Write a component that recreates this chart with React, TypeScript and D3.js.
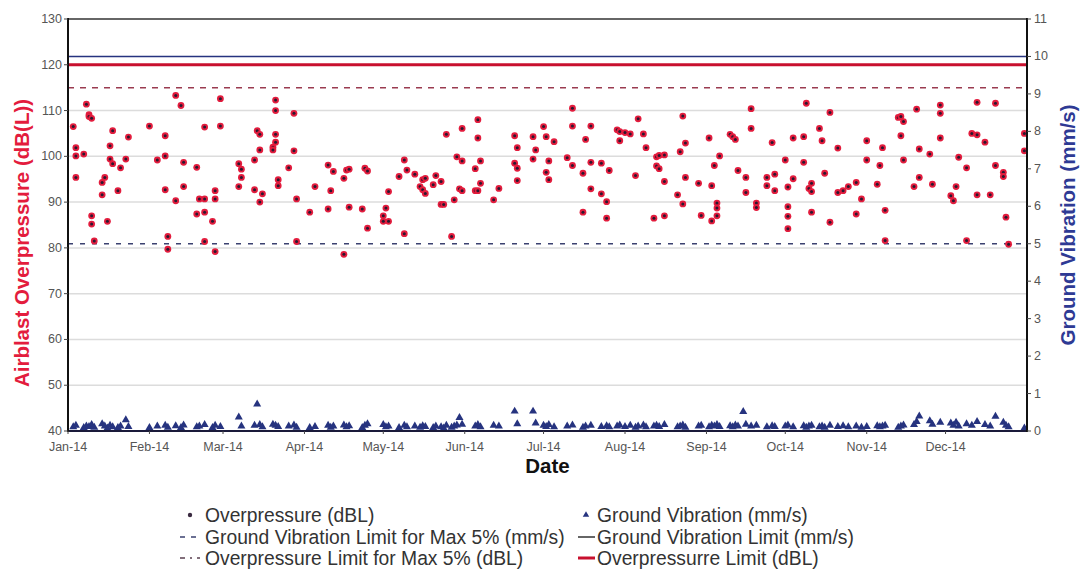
import React from 'react';
import * as d3 from 'd3';

// month ticks on the date axis
const monthTicks = [
    '2014-01-01', '2014-02-01', '2014-03-01', '2014-04-01', '2014-05-01', '2014-06-01',
    '2014-07-01', '2014-08-01', '2014-09-01', '2014-10-01', '2014-11-01', '2014-12-01'
];
const leftTicks = [40, 50, 60, 70, 80, 90, 100, 110, 120, 130];
const rightTicks = [0, 1, 2, 3, 4, 5, 6, 7, 8, 9, 10, 11];
const gridValues = [50, 60, 70, 80, 90, 100, 110, 120];

// limits
const overpressureLimit = 120;
const overpressureLimit5 = 115;
const vibrationLimit = 10;
const vibrationLimit5 = 5;

// blast results: [date, airblast overpressure dB(L)]
const overpressure: [string, number][] = [
    ['2014-01-03', 106.5], ['2014-01-04', 101.9], ['2014-01-04', 100.1], ['2014-01-04', 95.4], ['2014-01-07', 100.5],
    ['2014-01-08', 111.4], ['2014-01-09', 109.1], ['2014-01-09', 108.7], ['2014-01-10', 108.3], ['2014-01-10', 87.0],
    ['2014-01-10', 85.2], ['2014-01-11', 81.5], ['2014-01-14', 91.6], ['2014-01-14', 94.3], ['2014-01-15', 95.4],
    ['2014-01-16', 85.8], ['2014-01-17', 102.3], ['2014-01-17', 99.4], ['2014-01-18', 105.6], ['2014-01-18', 98.4],
    ['2014-01-20', 92.5], ['2014-01-21', 97.5], ['2014-01-23', 99.4], ['2014-01-24', 104.2],
    ['2014-02-01', 106.6], ['2014-02-04', 99.2], ['2014-02-07', 104.5], ['2014-02-07', 100.1], ['2014-02-07', 92.7],
    ['2014-02-08', 82.5], ['2014-02-08', 79.7], ['2014-02-11', 113.3], ['2014-02-11', 90.3], ['2014-02-13', 111.1],
    ['2014-02-14', 98.7], ['2014-02-14', 93.4], ['2014-02-19', 97.6], ['2014-02-19', 87.4], ['2014-02-20', 90.7],
    ['2014-02-22', 106.4], ['2014-02-22', 90.7], ['2014-02-22', 87.8], ['2014-02-22', 81.4], ['2014-02-25', 85.8],
    ['2014-02-26', 92.5], ['2014-02-26', 90.7], ['2014-02-26', 79.2], ['2014-02-28', 112.6], ['2014-02-28', 106.6],
    ['2014-03-07', 98.4], ['2014-03-07', 93.4], ['2014-03-08', 97.2], ['2014-03-08', 95.4], ['2014-03-13', 99.2],
    ['2014-03-13', 92.7], ['2014-03-14', 105.6], ['2014-03-15', 104.8], ['2014-03-15', 101.4], ['2014-03-15', 90.0],
    ['2014-03-16', 91.8], ['2014-03-20', 102.0], ['2014-03-20', 101.4], ['2014-03-21', 112.3], ['2014-03-21', 110.0],
    ['2014-03-21', 104.8], ['2014-03-21', 103.1], ['2014-03-22', 94.9], ['2014-03-22', 93.6], ['2014-03-26', 97.5],
    ['2014-03-28', 109.4], ['2014-03-28', 101.2], ['2014-03-29', 90.7], ['2014-03-29', 81.4],
    ['2014-04-03', 87.8], ['2014-04-05', 93.4], ['2014-04-10', 98.1], ['2014-04-10', 88.5], ['2014-04-11', 92.5],
    ['2014-04-12', 96.7], ['2014-04-16', 95.2], ['2014-04-16', 78.6], ['2014-04-17', 97.0], ['2014-04-18', 97.2],
    ['2014-04-18', 88.9], ['2014-04-23', 88.5], ['2014-04-24', 97.4], ['2014-04-25', 96.8], ['2014-04-25', 84.3],
    ['2014-05-01', 87.0], ['2014-05-01', 85.8], ['2014-05-02', 88.7], ['2014-05-03', 92.3], ['2014-05-03', 85.8],
    ['2014-05-07', 95.6], ['2014-05-09', 99.2], ['2014-05-09', 83.1], ['2014-05-10', 97.0], ['2014-05-13', 96.1],
    ['2014-05-15', 93.4], ['2014-05-16', 94.9], ['2014-05-16', 92.7], ['2014-05-17', 95.2], ['2014-05-17', 91.9],
    ['2014-05-20', 93.8], ['2014-05-21', 95.8], ['2014-05-23', 94.5], ['2014-05-23', 89.5], ['2014-05-24', 89.5],
    ['2014-05-25', 104.8], ['2014-05-27', 82.5], ['2014-05-28', 90.5], ['2014-05-29', 99.9], ['2014-05-30', 92.9],
    ['2014-05-31', 106.1], ['2014-05-31', 99.0], ['2014-05-31', 92.5],
    ['2014-06-05', 97.3], ['2014-06-05', 92.5], ['2014-06-06', 108.0], ['2014-06-06', 104.0], ['2014-06-06', 92.5],
    ['2014-06-07', 99.0], ['2014-06-07', 94.1], ['2014-06-12', 90.5], ['2014-06-14', 93.0], ['2014-06-20', 104.5],
    ['2014-06-20', 98.5], ['2014-06-21', 101.9], ['2014-06-21', 97.4], ['2014-06-21', 94.7], ['2014-06-27', 104.3],
    ['2014-06-27', 99.4], ['2014-06-28', 101.4],
    ['2014-07-01', 106.5], ['2014-07-02', 104.3], ['2014-07-02', 96.5], ['2014-07-03', 99.0], ['2014-07-03', 94.9],
    ['2014-07-05', 103.2], ['2014-07-10', 99.7], ['2014-07-12', 110.5], ['2014-07-12', 106.6], ['2014-07-12', 98.0],
    ['2014-07-16', 96.3], ['2014-07-16', 87.8], ['2014-07-17', 103.7], ['2014-07-19', 106.6], ['2014-07-19', 98.7],
    ['2014-07-19', 92.9], ['2014-07-23', 98.5], ['2014-07-23', 91.8], ['2014-07-25', 90.1], ['2014-07-25', 86.5],
    ['2014-07-26', 96.9], ['2014-07-29', 105.8], ['2014-07-30', 105.4], ['2014-07-30', 103.4],
    ['2014-08-01', 105.2], ['2014-08-03', 104.9], ['2014-08-05', 95.8], ['2014-08-06', 108.2], ['2014-08-08', 104.9],
    ['2014-08-09', 101.9], ['2014-08-12', 86.5], ['2014-08-13', 99.9], ['2014-08-13', 97.9], ['2014-08-14', 100.2],
    ['2014-08-14', 97.3], ['2014-08-16', 100.3], ['2014-08-16', 94.5], ['2014-08-16', 87.0], ['2014-08-21', 91.6],
    ['2014-08-22', 101.0], ['2014-08-23', 108.8], ['2014-08-23', 89.6], ['2014-08-24', 102.9], ['2014-08-24', 95.4],
    ['2014-08-29', 94.1], ['2014-08-30', 87.1],
    ['2014-09-02', 104.0], ['2014-09-03', 93.6], ['2014-09-03', 85.9], ['2014-09-04', 98.0], ['2014-09-05', 89.8],
    ['2014-09-05', 88.7], ['2014-09-05', 87.0], ['2014-09-06', 100.1], ['2014-09-10', 104.8], ['2014-09-11', 104.3],
    ['2014-09-12', 103.7], ['2014-09-13', 96.9], ['2014-09-16', 95.4], ['2014-09-16', 92.1], ['2014-09-18', 110.4],
    ['2014-09-18', 106.1], ['2014-09-20', 89.8], ['2014-09-20', 88.8], ['2014-09-24', 95.4], ['2014-09-24', 93.6],
    ['2014-09-26', 103.0], ['2014-09-27', 96.1], ['2014-09-27', 92.5],
    ['2014-10-01', 99.2], ['2014-10-02', 93.3], ['2014-10-02', 89.0], ['2014-10-02', 86.9], ['2014-10-02', 84.2],
    ['2014-10-04', 104.0], ['2014-10-04', 95.1], ['2014-10-08', 104.3], ['2014-10-08', 98.7], ['2014-10-09', 111.6],
    ['2014-10-10', 93.0], ['2014-10-11', 94.1], ['2014-10-11', 92.3], ['2014-10-11', 87.8], ['2014-10-14', 106.1],
    ['2014-10-15', 103.4], ['2014-10-16', 96.3], ['2014-10-18', 109.6], ['2014-10-18', 85.6], ['2014-10-21', 101.8],
    ['2014-10-21', 92.1], ['2014-10-23', 92.5], ['2014-10-25', 93.4], ['2014-10-28', 94.3], ['2014-10-28', 87.4],
    ['2014-10-30', 90.7],
    ['2014-11-01', 103.4], ['2014-11-01', 99.2], ['2014-11-05', 93.9], ['2014-11-06', 98.0], ['2014-11-07', 101.9],
    ['2014-11-08', 88.2], ['2014-11-08', 81.6], ['2014-11-13', 108.5], ['2014-11-14', 108.7], ['2014-11-14', 104.5],
    ['2014-11-15', 107.6], ['2014-11-15', 99.2], ['2014-11-19', 93.4], ['2014-11-20', 110.3], ['2014-11-21', 101.6],
    ['2014-11-21', 95.4], ['2014-11-25', 100.5], ['2014-11-26', 93.9], ['2014-11-29', 111.2], ['2014-11-29', 109.4],
    ['2014-11-29', 104.0],
    ['2014-12-03', 91.4], ['2014-12-04', 90.3], ['2014-12-05', 93.4], ['2014-12-06', 99.8], ['2014-12-09', 97.5],
    ['2014-12-09', 81.6], ['2014-12-11', 105.0], ['2014-12-13', 111.8], ['2014-12-13', 104.7], ['2014-12-13', 91.6],
    ['2014-12-16', 103.1], ['2014-12-18', 91.6], ['2014-12-20', 111.6], ['2014-12-20', 98.0], ['2014-12-23', 96.5],
    ['2014-12-23', 95.6], ['2014-12-24', 86.7], ['2014-12-25', 80.8], ['2014-12-31', 105.0], ['2014-12-31', 101.2]
];

// blast results: [date, ground vibration mm/s]
const vibration: [string, number][] = [
    ['2014-01-03', 0.08], ['2014-01-04', 0.12], ['2014-01-07', 0.06], ['2014-01-08', 0.10], ['2014-01-09', 0.09],
    ['2014-01-10', 0.14], ['2014-01-11', 0.07], ['2014-01-14', 0.16], ['2014-01-15', 0.10], ['2014-01-16', 0.05],
    ['2014-01-17', 0.12], ['2014-01-18', 0.08], ['2014-01-20', 0.06], ['2014-01-21', 0.10], ['2014-01-23', 0.27],
    ['2014-01-24', 0.09], ['2014-02-01', 0.06], ['2014-02-04', 0.10], ['2014-02-07', 0.12], ['2014-02-08', 0.07],
    ['2014-02-11', 0.11], ['2014-02-13', 0.06], ['2014-02-14', 0.13], ['2014-02-19', 0.08], ['2014-02-20', 0.10],
    ['2014-02-22', 0.14], ['2014-02-25', 0.06], ['2014-02-26', 0.12], ['2014-02-28', 0.09], ['2014-03-07', 0.34],
    ['2014-03-08', 0.10], ['2014-03-13', 0.12], ['2014-03-14', 0.69], ['2014-03-15', 0.14], ['2014-03-16', 0.08],
    ['2014-03-20', 0.15], ['2014-03-21', 0.12], ['2014-03-22', 0.09], ['2014-03-26', 0.10], ['2014-03-28', 0.13],
    ['2014-03-29', 0.07], ['2014-04-03', 0.06], ['2014-04-05', 0.09], ['2014-04-10', 0.12], ['2014-04-11', 0.07],
    ['2014-04-12', 0.10], ['2014-04-16', 0.13], ['2014-04-17', 0.08], ['2014-04-18', 0.11], ['2014-04-23', 0.06],
    ['2014-04-24', 0.12], ['2014-04-25', 0.16], ['2014-05-01', 0.14], ['2014-05-02', 0.08], ['2014-05-03', 0.10],
    ['2014-05-07', 0.06], ['2014-05-09', 0.12], ['2014-05-10', 0.08], ['2014-05-13', 0.10], ['2014-05-15', 0.07],
    ['2014-05-16', 0.11], ['2014-05-17', 0.09], ['2014-05-20', 0.06], ['2014-05-21', 0.10], ['2014-05-23', 0.08],
    ['2014-05-24', 0.05], ['2014-05-25', 0.12], ['2014-05-27', 0.07], ['2014-05-28', 0.10], ['2014-05-29', 0.13],
    ['2014-05-30', 0.33], ['2014-05-31', 0.15], ['2014-06-05', 0.10], ['2014-06-06', 0.14], ['2014-06-07', 0.08],
    ['2014-06-12', 0.12], ['2014-06-14', 0.10], ['2014-06-20', 0.50], ['2014-06-21', 0.16], ['2014-06-27', 0.50],
    ['2014-06-28', 0.18], ['2014-07-01', 0.12], ['2014-07-02', 0.09], ['2014-07-03', 0.14], ['2014-07-05', 0.08],
    ['2014-07-10', 0.10], ['2014-07-12', 0.13], ['2014-07-16', 0.07], ['2014-07-17', 0.10], ['2014-07-19', 0.12],
    ['2014-07-23', 0.09], ['2014-07-25', 0.11], ['2014-07-26', 0.08], ['2014-07-29', 0.10], ['2014-07-30', 0.13],
    ['2014-08-01', 0.09], ['2014-08-03', 0.12], ['2014-08-05', 0.07], ['2014-08-06', 0.10], ['2014-08-08', 0.13],
    ['2014-08-09', 0.08], ['2014-08-12', 0.10], ['2014-08-13', 0.12], ['2014-08-14', 0.09], ['2014-08-16', 0.14],
    ['2014-08-21', 0.08], ['2014-08-22', 0.10], ['2014-08-23', 0.13], ['2014-08-24', 0.07], ['2014-08-29', 0.10],
    ['2014-08-30', 0.12], ['2014-09-02', 0.08], ['2014-09-03', 0.12], ['2014-09-04', 0.10], ['2014-09-05', 0.14],
    ['2014-09-06', 0.09], ['2014-09-10', 0.11], ['2014-09-11', 0.08], ['2014-09-12', 0.13], ['2014-09-13', 0.10],
    ['2014-09-15', 0.49], ['2014-09-16', 0.15], ['2014-09-18', 0.10], ['2014-09-20', 0.12], ['2014-09-24', 0.08],
    ['2014-09-26', 0.11], ['2014-09-27', 0.09], ['2014-10-01', 0.10], ['2014-10-02', 0.13], ['2014-10-04', 0.08],
    ['2014-10-08', 0.11], ['2014-10-09', 0.07], ['2014-10-10', 0.10], ['2014-10-11', 0.12], ['2014-10-14', 0.08],
    ['2014-10-15', 0.10], ['2014-10-16', 0.07], ['2014-10-18', 0.12], ['2014-10-21', 0.09], ['2014-10-23', 0.11],
    ['2014-10-25', 0.08], ['2014-10-28', 0.10], ['2014-10-30', 0.07], ['2014-11-01', 0.09], ['2014-11-05', 0.11],
    ['2014-11-06', 0.08], ['2014-11-07', 0.10], ['2014-11-08', 0.12], ['2014-11-13', 0.07], ['2014-11-14', 0.10],
    ['2014-11-15', 0.13], ['2014-11-19', 0.14], ['2014-11-20', 0.22], ['2014-11-21', 0.37], ['2014-11-25', 0.24],
    ['2014-11-26', 0.15], ['2014-11-29', 0.20], ['2014-12-03', 0.18], ['2014-12-04', 0.12], ['2014-12-05', 0.20],
    ['2014-12-06', 0.10], ['2014-12-09', 0.16], ['2014-12-11', 0.12], ['2014-12-13', 0.22], ['2014-12-16', 0.14],
    ['2014-12-18', 0.10], ['2014-12-20', 0.36], ['2014-12-23', 0.20], ['2014-12-24', 0.12], ['2014-12-25', 0.08],
    ['2014-12-31', 0.05]
];

const RED = '#e31c3d';
const NAVY = '#26337f';
const FONT = '"Liberation Sans", Arial, sans-serif';

const parse = d3.timeParse('%Y-%m-%d');
const fmt = d3.timeFormat('%b-%y');

export default function App() {
    const width = 1082;
    const height = 573;
    const margin = { top: 19, right: 55, bottom: 142, left: 68 };
    const plotRight = width - margin.right;
    const plotBottom = height - margin.bottom;

    const x = d3.scaleTime()
        .domain([new Date(2014, 0, 1), new Date(2015, 0, 1)])
        .range([margin.left, plotRight]);
    const yL = d3.scaleLinear().domain([40, 130]).range([plotBottom, margin.top]);
    const yR = d3.scaleLinear().domain([0, 11]).range([plotBottom, margin.top]);

    const tri = d3.symbol().type(d3.symbolTriangle).size(28)();

    const legendRows = [515, 537, 558];
    const col1 = 180;
    const col2 = 578;

    return (
        <svg width={width} height={height} style={{ position: 'absolute', left: 0, top: 0, background: '#fff' }}
            fontFamily={FONT}>
            {/* gridlines */}
            {gridValues.map(v => (
                <line key={v} x1={margin.left} x2={plotRight} y1={yL(v)} y2={yL(v)} stroke="#dcdcdc" strokeWidth={1.5} />
            ))}

            {/* limit lines */}
            <line x1={margin.left} x2={plotRight} y1={yR(vibrationLimit5)} y2={yR(vibrationLimit5)}
                stroke="#3b4170" strokeWidth={1.5} strokeDasharray="5,7" />
            <line x1={margin.left} x2={plotRight} y1={yL(overpressureLimit5)} y2={yL(overpressureLimit5)}
                stroke="#9a3b50" strokeWidth={1.5} strokeDasharray="6,6" />
            <line x1={margin.left} x2={plotRight} y1={yR(vibrationLimit)} y2={yR(vibrationLimit)}
                stroke={NAVY} strokeWidth={1.6} />
            <line x1={margin.left} x2={plotRight} y1={yL(overpressureLimit)} y2={yL(overpressureLimit)}
                stroke="#c8102e" strokeWidth={3} />

            {/* overpressure points */}
            {overpressure.map(([d, v], i) => (
                <g key={'o' + i} transform={`translate(${x(parse(d)!)},${yL(v)})`}>
                    <circle r={3.4} fill={RED} />
                    <circle r={1.5} fill="#2a1830" />
                </g>
            ))}

            {/* vibration points */}
            {vibration.map(([d, v], i) => (
                <path key={'v' + i} d={tri!} transform={`translate(${x(parse(d)!)},${yR(v) - 1})`} fill={NAVY} />
            ))}

            {/* frame */}
            <line x1={margin.left} x2={plotRight} y1={margin.top} y2={margin.top} stroke="#666" strokeWidth={2} />
            <line x1={margin.left} x2={plotRight} y1={plotBottom} y2={plotBottom} stroke="#1a1a3a" strokeWidth={2} />
            <line x1={margin.left} x2={margin.left} y1={margin.top - 1} y2={plotBottom + 1} stroke="#111" strokeWidth={2} />
            <line x1={plotRight} x2={plotRight} y1={margin.top - 1} y2={plotBottom + 1} stroke="#111" strokeWidth={2} />

            {/* left axis */}
            {leftTicks.map(t => (
                <g key={'l' + t}>
                    <line x1={margin.left - 4} x2={margin.left} y1={yL(t)} y2={yL(t)} stroke="#444" />
                    <text x={margin.left - 6} y={yL(t)} textAnchor="end" dominantBaseline="central"
                        fontSize={12.5} fill="#555">{t}</text>
                </g>
            ))}

            {/* right axis */}
            {rightTicks.map(t => (
                <g key={'r' + t}>
                    <line x1={plotRight} x2={plotRight + 4} y1={yR(t)} y2={yR(t)} stroke="#444" />
                    <text x={plotRight + 7} y={yR(t)} dominantBaseline="central"
                        fontSize={12.5} fill="#555">{t}</text>
                </g>
            ))}

            {/* date axis */}
            {monthTicks.map(m => {
                const d = parse(m)!;
                return (
                    <g key={m}>
                        <line x1={x(d)} x2={x(d)} y1={plotBottom} y2={plotBottom + 3} stroke="#444" />
                        <text x={x(d)} y={plotBottom + 16} textAnchor="middle" dominantBaseline="central"
                            fontSize={12.5} fill="#555">{fmt(d)}</text>
                    </g>
                );
            })}

            {/* axis titles */}
            <text transform={`translate(29,${(margin.top + plotBottom) / 2 + 18}) rotate(-90)`} textAnchor="middle"
                fontSize={20.5} fontWeight="bold" fill={RED}>Airblast Overpressure (dB(L))</text>
            <text transform={`translate(1067,${(margin.top + plotBottom) / 2}) rotate(-90)`} textAnchor="middle"
                dominantBaseline="central" fontSize={20.5} fontWeight="bold" fill="#2e3a94">Ground Vibration (mm/s)</text>
            <text x={(margin.left + plotRight) / 2} y={473} textAnchor="middle" fontSize={20.5} fontWeight="bold"
                fill="#111">Date</text>

            {/* legend */}
            <g fontSize={19.3} fill="#333">
                <g transform={`translate(${col1 + 10},${legendRows[0]})`}>
                    <circle r={2.2} fill="#3a2a40" />
                </g>
                <text x={col1 + 25} y={legendRows[0]} dominantBaseline="central">Overpressure (dBL)</text>

                <line x1={col1} x2={col1 + 20} y1={legendRows[1]} y2={legendRows[1]} stroke="#3b4170"
                    strokeWidth={1.5} strokeDasharray="5,6" />
                <text x={col1 + 25} y={legendRows[1]} dominantBaseline="central">Ground Vibration Limit for Max 5% (mm/s)</text>

                <line x1={col1} x2={col1 + 20} y1={legendRows[2]} y2={legendRows[2]} stroke="#5a4050"
                    strokeWidth={1.5} strokeDasharray="5,5,2,5" />
                <text x={col1 + 25} y={legendRows[2]} dominantBaseline="central">Overpressure Limit for Max 5% (dBL)</text>

                <path d={d3.symbol().type(d3.symbolTriangle).size(18)()!}
                    transform={`translate(${col2 + 8},${legendRows[0]})`} fill={NAVY} />
                <text x={col2 + 19} y={legendRows[0]} dominantBaseline="central">Ground Vibration (mm/s)</text>

                <line x1={col2} x2={col2 + 17} y1={legendRows[1]} y2={legendRows[1]} stroke="#333" strokeWidth={1.5} />
                <text x={col2 + 19} y={legendRows[1]} dominantBaseline="central">Ground Vibration Limit (mm/s)</text>

                <line x1={col2} x2={col2 + 17} y1={legendRows[2]} y2={legendRows[2]} stroke="#c8102e" strokeWidth={3} />
                <text x={col2 + 19} y={legendRows[2]} dominantBaseline="central">Overpressurre Limit (dBL)</text>
            </g>
        </svg>
    );
}
